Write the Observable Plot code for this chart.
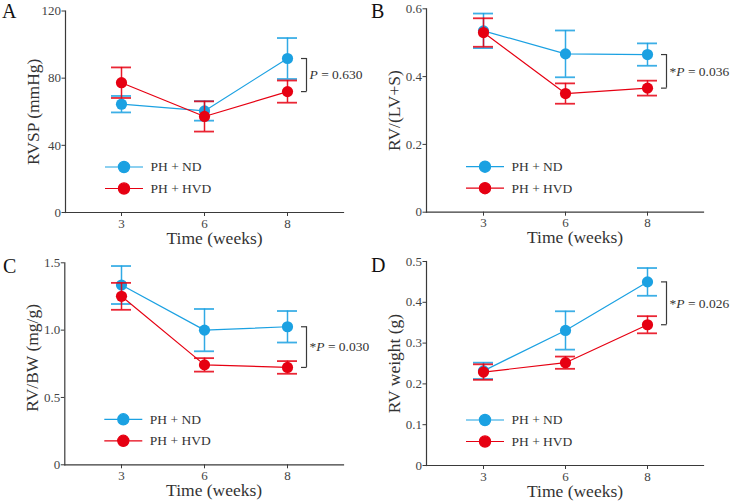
<!DOCTYPE html>
<html><head><meta charset="utf-8">
<script src="https://cdn.jsdelivr.net/npm/d3@7"></script>
<script src="https://cdn.jsdelivr.net/npm/@observablehq/plot@0.6"></script>
<style>
body{margin:0;background:#fff;}
#wrap{position:relative;width:733px;height:501px;overflow:hidden;font-family:"Liberation Serif","Times New Roman",serif;}
.panel{position:absolute;}
.panel svg text{font-family:"Liberation Serif","Times New Roman",serif;}
#letters{position:absolute;left:0;top:0;pointer-events:none;}
</style></head><body><div id="wrap"></div>
<script>
// ---- data ----
const weeks = [3, 6, 8];
const seriesNames = ["PH + ND", "PH + HVD"];
const seriesColors = ["#1ba1e2", "#e60012"];

// A: RVSP (mmHg)
const rvspND = [64.5, 60.5, 91.7];
const rvspNDErr = [4.9, 5.8, 12.2];
const rvspHVD = [77.3, 57.2, 72.0];
const rvspHVDErr = [9.1, 9.0, 6.6];
const rvspTicks = [0, 40, 80, 120];
const rvspTickLabels = ["0", "40", "80", "120"];
const rvspP = "P = 0.630";

// B: RV/(LV+S)
const ratioND = [0.535, 0.467, 0.465];
const ratioNDErr = [0.051, 0.069, 0.033];
const ratioHVD = [0.530, 0.350, 0.366];
const ratioHVDErr = [0.042, 0.030, 0.022];
const ratioTicks = [0, 0.2, 0.4, 0.6];
const ratioTickLabels = ["0", "0.2", "0.4", "0.6"];
const ratioP = "*P = 0.036";

// C: RV/BW (mg/g)
const rvbwND = [1.335, 1.0, 1.025];
const rvbwNDErr = [0.141, 0.157, 0.117];
const rvbwHVD = [1.251, 0.742, 0.723];
const rvbwHVDErr = [0.10, 0.05, 0.047];
const rvbwTicks = [0, 0.5, 1.0, 1.5];
const rvbwTickLabels = ["0", "0.5", "1.0", "1.5"];
const rvbwP = "*P = 0.030";

// D: RV weight (g)
const rvwND = [0.232, 0.331, 0.450];
const rvwNDErr = [0.020, 0.047, 0.034];
const rvwHVD = [0.229, 0.252, 0.345];
const rvwHVDErr = [0.019, 0.015, 0.021];
const rvwTicks = [0, 0.1, 0.2, 0.3, 0.4, 0.5];
const rvwTickLabels = ["0", "0.1", "0.2", "0.3", "0.4", "0.5"];
const rvwP = "*P = 0.026";

const panelLetters = ["A", "B", "C", "D"];
const xLabel = "Time (weeks)";
const yLabels = ["RVSP (mmHg)", "RV/(LV+S)", "RV/BW (mg/g)", "RV weight (g)"];

// ---- layout ----
const panels = [
  {left: 0, top: 0, width: 366, height: 250, m: [10.5, 23, 38, 65], ylabDy: 0,
   means: [rvspND, rvspHVD], errs: [rvspNDErr, rvspHVDErr], ticks: rvspTicks, tickLabels: rvspTickLabels, p: rvspP},
  {left: 370, top: 0, width: 363, height: 250, m: [8.3, 30, 38.3, 56], ylabDy: 0,
   means: [ratioND, ratioHVD], errs: [ratioNDErr, ratioHVDErr], ticks: ratioTicks, tickLabels: ratioTickLabels, p: ratioP},
  {left: 0, top: 250, width: 366, height: 251, m: [12.3, 23, 36.7, 64.3], ylabDy: -6,
   means: [rvbwND, rvbwHVD], errs: [rvbwNDErr, rvbwHVDErr], ticks: rvbwTicks, tickLabels: rvbwTickLabels, p: rvbwP},
  {left: 370, top: 250, width: 363, height: 251, m: [11, 30, 36, 56], ylabDy: 0,
   means: [rvwND, rvwHVD], errs: [rvwNDErr, rvwHVDErr], ticks: rvwTicks, tickLabels: rvwTickLabels, p: rvwP}
];

const FONT = '"Liberation Serif", "Times New Roman", serif';
const axisColor = "#3a3a3a";
const legendSymbol = {
  draw(ctx, size) {
    const r = Math.sqrt(size / Math.PI);
    ctx.moveTo(-19, 0); ctx.lineTo(19, 0);
    ctx.moveTo(r, 0); ctx.arc(0, 0, r, 0, 2 * Math.PI);
  }
};

const wrap = document.getElementById("wrap");

panels.forEach((cfg, pi) => {
  const series = cfg.means.map((mean, k) => weeks.map((w, i) => ({week: w, value: mean[i], err: cfg.errs[k][i]})));
  const nd = series[0], hvd = series[1];
  const bracket = [{week: 8, hi: nd[2].value, lo: hvd[2].value}];
  const yMax = cfg.ticks[cfg.ticks.length - 1];
  const marks = [];
  series.forEach((s, k) => {
    const c = seriesColors[k];
    marks.push(
      Plot.line(s, {x: "week", y: "value", stroke: c, strokeWidth: 1.2}),
      Plot.ruleX(s, {x: "week", y1: d => d.value - d.err, y2: d => d.value + d.err, stroke: c, strokeWidth: 1.5, strokeOpacity: 0.9}),
      Plot.tickY(s, {x: "week", y: d => d.value + d.err, stroke: c, strokeWidth: 1.8, strokeOpacity: 0.85, insetLeft: -10, insetRight: -10}),
      Plot.tickY(s, {x: "week", y: d => d.value - d.err, stroke: c, strokeWidth: 1.8, strokeOpacity: 0.85, insetLeft: -10, insetRight: -10}),
      Plot.dot(s, {x: "week", y: "value", r: 5.6, fill: c, stroke: "none"})
    );
  });
  // significance bracket
  marks.push(
    Plot.ruleX(bracket, {x: "week", y1: "lo", y2: "hi", dx: 19, stroke: axisColor, strokeWidth: 1.2}),
    Plot.tickY(bracket, {x: "week", y: "hi", insetLeft: 14, insetRight: -19.6, stroke: axisColor, strokeWidth: 1.2}),
    Plot.tickY(bracket, {x: "week", y: "lo", insetLeft: 14, insetRight: -19.6, stroke: axisColor, strokeWidth: 1.2}),
    Plot.text(bracket, {x: "week", y: d => (d.hi + d.lo) / 2, text: () => cfg.p, dx: 22, textAnchor: "start", lineAnchor: "middle", fontSize: 13.5, fontFamily: FONT, fill: "#333"})
  );
  // legend
  seriesNames.forEach((name, k) => {
    const dy = k === 0 ? -45.5 : -24;
    marks.push(
      Plot.dot([name], {frameAnchor: "bottom-left", dx: 58.5, dy, symbol: legendSymbol, r: 5.6, fill: seriesColors[k], stroke: seriesColors[k], strokeWidth: 1.2}),
      Plot.text([name], {frameAnchor: "bottom-left", dx: 85, dy, text: d => d, textAnchor: "start", lineAnchor: "middle", fontSize: 13.5, fontFamily: FONT, fill: "#333"})
    );
  });
  // axes
  marks.push(
    Plot.frame({anchor: "left", stroke: axisColor, strokeWidth: 1.2}),
    Plot.frame({anchor: "bottom", stroke: axisColor, strokeWidth: 1.2}),
    Plot.axisY({ticks: cfg.ticks, tickFormat: (d, i) => cfg.tickLabels[i], tickSize: 3.5, tickPadding: 1, label: null, fontSize: 13, fontFamily: FONT, stroke: axisColor}),
    Plot.axisX({ticks: weeks, tickSize: 4, tickPadding: 2, label: null, fontSize: 13, fontFamily: FONT, stroke: axisColor}),
    Plot.text([xLabel], {frameAnchor: "bottom", dx: 10, dy: 25.5, text: d => d, textAnchor: "middle", lineAnchor: "middle", fontSize: 17.5, fontFamily: FONT, fill: "#333"}),
    Plot.text([yLabels[pi]], {frameAnchor: "left", dx: -32, dy: cfg.ylabDy, rotate: -90, text: d => d, textAnchor: "middle", lineAnchor: "middle", fontSize: 17.5, fontFamily: FONT, fill: "#333"})
  );

  const chart = Plot.plot({
    width: cfg.width,
    height: cfg.height,
    marginTop: cfg.m[0], marginRight: cfg.m[1], marginBottom: cfg.m[2], marginLeft: cfg.m[3],
    x: {type: "band", domain: weeks, paddingInner: 1, paddingOuter: 0.67},
    y: {domain: [0, yMax]},
    style: {fontFamily: FONT, color: "#444", background: "transparent", overflow: "visible"},
    marks
  });
  // italic P in significance labels
  d3.select(chart).selectAll("text").each(function() {
    if (this.querySelector("tspan")) return;
    const t = this.textContent;
    const m = t.match(/^(\*?)P( = .*)$/);
    if (!m) return;
    const sel = d3.select(this);
    sel.text(null);
    if (m[1]) sel.append("tspan").text(m[1]);
    sel.append("tspan").attr("font-style", "italic").text("P");
    sel.append("tspan").text(m[2]);
  });
  const div = document.createElement("div");
  div.className = "panel";
  div.style.left = cfg.left + "px";
  div.style.top = cfg.top + "px";
  div.appendChild(chart);
  wrap.appendChild(div);
});

// panel letters
const letterPos = [[2, 18], [371, 18], [3, 273], [371, 272]];
const ls = d3.select(wrap).append("svg").attr("id", "letters").attr("width", 733).attr("height", 501);
ls.selectAll("text").data(panelLetters).join("text")
  .attr("x", (d, i) => letterPos[i][0]).attr("y", (d, i) => letterPos[i][1])
  .attr("font-family", FONT)
  .attr("font-size", 20).attr("fill", "#111").text(d => d);
</script>
</body></html>
